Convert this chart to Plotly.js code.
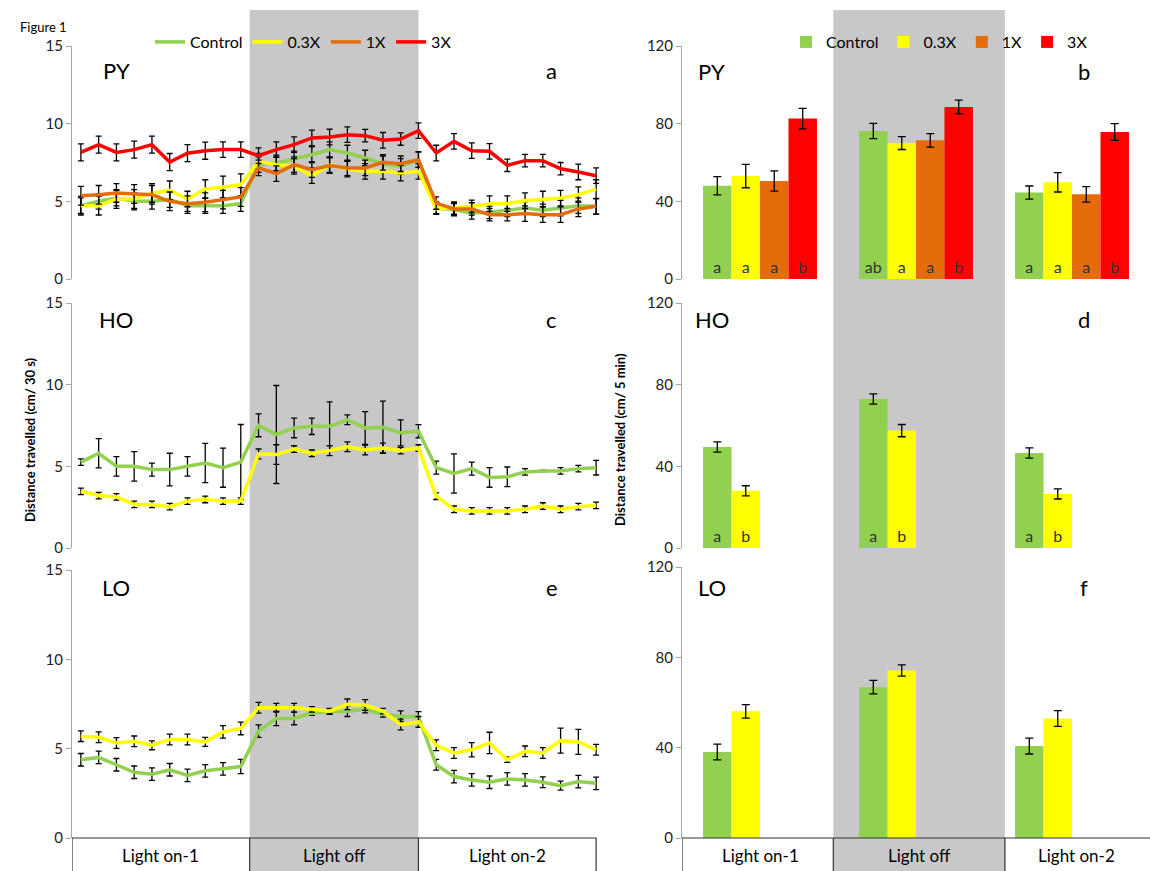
<!DOCTYPE html>
<html><head><meta charset="utf-8">
<script src="https://cdn.plot.ly/plotly-3.0.1.min.js"></script>
<style>body{margin:0;background:#fff}#plot{width:1150px;height:871px}</style>
</head><body><div id="plot"></div>
<script>
// time points: 10 light on-1, 10 light off, 10 light on-2
const t = Array.from({length: 30}, (_, i) => i);

// panel a (PY)
const aControl = [4.72,5.0,5.21,5.0,5.0,5.11,4.72,4.72,4.72,4.85, 7.36,7.47,7.73,8.0,8.33,8.11,7.79,7.42,7.25,7.68, 4.57,4.46,4.25,4.29,4.42,4.57,4.42,4.57,4.72,4.68];
const a03X = [4.72,4.72,5.15,5.15,5.54,5.71,5.15,5.79,5.92,6.07, 7.58,7.36,7.25,6.65,7.36,7.08,6.93,6.93,6.82,6.93, 4.51,4.57,4.68,4.85,4.85,5.04,5.15,5.21,5.43,5.79];
const a1X = [5.36,5.42,5.54,5.47,5.42,5.0,4.85,4.94,5.11,5.28, 7.15,6.78,7.36,7.04,7.3,7.15,7.15,7.51,7.42,7.68, 4.89,4.51,4.51,4.14,4.14,4.21,4.14,4.14,4.51,4.68];
const a3X = [8.15,8.65,8.15,8.33,8.65,7.53,8.1,8.26,8.33,8.33, 7.94,8.33,8.65,9.08,9.14,9.29,9.23,8.93,9.01,9.55, 8.11,8.86,8.26,8.22,7.32,7.62,7.62,7.1,6.89,6.65];
const aErrControl = [0.5,0.5,0.5,0.55,0.5,0.5,0.5,0.5,0.5,0.5, 0.5,0.5,0.5,0.5,0.5,0.5,0.5,0.5,0.5,0.5, 0.4,0.4,0.4,0.4,0.4,0.4,0.4,0.5,0.5,0.5];
const aErr03X = [0.6,0.6,0.6,0.6,0.6,0.6,0.5,0.6,0.7,0.7, 0.5,0.5,0.5,0.5,0.5,0.5,0.5,0.5,0.5,0.5, 0.3,0.4,0.4,0.5,0.5,0.5,0.5,0.5,0.5,0.6];
const aErr1X = [0.6,0.6,0.6,0.6,0.6,0.6,0.5,0.6,0.6,0.6, 0.5,0.5,0.5,0.5,0.5,0.5,0.5,0.5,0.5,0.5, 0.4,0.4,0.4,0.4,0.4,0.5,0.5,0.5,0.5,0.5];
const aErr3X = [0.55,0.55,0.55,0.55,0.55,0.55,0.55,0.55,0.5,0.5, 0.5,0.5,0.5,0.5,0.5,0.5,0.4,0.5,0.4,0.5, 0.5,0.5,0.5,0.5,0.4,0.4,0.4,0.4,0.5,0.5];

// panel c (HO)
const cControl = [5.26,5.8,5.0,5.0,4.8,4.8,5.0,5.2,4.92,5.26, 7.51,6.95,7.35,7.45,7.45,7.85,7.35,7.39,7.05,7.15, 4.92,4.56,4.86,4.32,4.36,4.66,4.72,4.72,4.86,4.92];
const cErrControl = [0.2,0.9,0.6,0.9,0.4,1.0,0.6,1.2,1.2,2.3, 0.7,3.0,0.6,0.5,1.5,0.3,1.0,1.6,0.8,0.4, 0.4,1.2,0.4,0.6,0.6,0.2,0.05,0.2,0.2,0.45];
const c03X = [3.47,3.21,3.13,2.67,2.67,2.53,2.87,2.97,2.87,2.87, 5.76,5.72,6.06,5.8,5.96,6.2,6.0,6.12,5.96,6.12, 3.17,2.37,2.27,2.27,2.27,2.37,2.57,2.37,2.53,2.61];
const cErr03X = [0.2,0.2,0.2,0.2,0.2,0.2,0.2,0.2,0.2,0.2, 0.3,0.6,0.2,0.2,0.3,0.3,0.3,0.3,0.2,0.2, 0.2,0.2,0.2,0.2,0.2,0.2,0.2,0.2,0.2,0.2];

// panel e (LO)
const eControl = [4.38,4.51,4.1,3.68,3.57,3.82,3.5,3.76,3.87,4.0, 5.98,6.69,6.69,7.01,7.07,7.1,7.2,6.92,6.82,6.77, 4.1,3.44,3.25,3.12,3.31,3.25,3.12,2.93,3.16,3.06];
const eErrControl = [0.35,0.35,0.35,0.35,0.35,0.35,0.35,0.35,0.35,0.4, 0.35,0.4,0.35,0.15,0.15,0.3,0.2,0.15,0.3,0.3, 0.3,0.35,0.35,0.35,0.35,0.35,0.3,0.25,0.35,0.35];
const e03X = [5.7,5.64,5.32,5.41,5.19,5.51,5.51,5.38,5.94,6.13, 7.29,7.29,7.29,7.2,7.1,7.48,7.44,7.1,6.35,6.5, 5.19,4.76,4.94,5.32,4.38,4.85,4.76,5.45,5.38,4.94];
const eErr03X = [0.3,0.3,0.3,0.3,0.25,0.3,0.3,0.25,0.35,0.35, 0.3,0.25,0.25,0.15,0.15,0.3,0.3,0.15,0.3,0.3, 0.3,0.3,0.4,0.6,0.15,0.3,0.3,0.7,0.7,0.3];

// bar panels, per 5 min
const phases = ['Light on-1','Light off','Light on-2'];
const bControl = [48,76.2,44.5], bErrControl = [4.7,3.9,3.4], bTxtControl = ['a','ab','a'];
const b03X = [53,70,49.8], bErr03X = [6,3.3,5], bTxt03X = ['a','a','a'];
const b1X = [50.5,71.4,43.6], bErr1X = [5.2,3.5,4], bTxt1X = ['a','a','a'];
const b3X = [82.6,88.6,75.7], bErr3X = [5.3,3.5,4.3], bTxt3X = ['b','b','b'];
const dControl = [49.5,73,46.5], dErrControl = [2.5,2.5,2.5], dTxtControl = ['a','a','a'];
const d03X = [28,57.5,26.5], dErr03X = [2.5,3,2.5], dTxt03X = ['b','b','b'];
const fControl = [38.1,66.8,40.7], fErrControl = [3.5,3,3.5];
const f03X = [56.1,74.2,52.9], fErr03X = [3,2.5,3.5];

const colors = {Control: '#92D050', '0.3X': '#FFFF00', '1X': '#E46C0A', '3X': '#FF0000'};
const FONT = 'Lato, "Open Sans", sans-serif';

function line(name, y, err, ax, legend) {
  return {x: t, y: y, type: 'scatter', mode: 'lines', name: name,
    xaxis: 'x' + ax, yaxis: 'y' + ax, showlegend: legend,
    line: {color: colors[name], width: 3.5},
    error_y: {type: 'data', array: err, color: '#000', thickness: 1.3, width: 3}};
}
function bar(name, y, err, txt, ax, legend) {
  return {x: [0, 1, 2], y: y, type: 'bar', name: name, legend: 'legend2',
    xaxis: 'x' + ax, yaxis: 'y' + ax, showlegend: legend,
    marker: {color: colors[name]},
    text: txt, textposition: 'inside', insidetextanchor: 'start',
    textfont: {family: FONT, size: 16, color: '#333'},
    error_y: {type: 'data', array: err, color: '#000', thickness: 1.3, width: 4}};
}
const blank = (name, ax) => ({x: [0, 1, 2], y: [null, null, null], type: 'bar', name: name,
  xaxis: 'x' + ax, yaxis: 'y' + ax, showlegend: false, marker: {color: colors[name]}});

const data = [
  line('Control', aControl, aErrControl, '', true),
  line('0.3X', a03X, aErr03X, '', true),
  line('1X', a1X, aErr1X, '', true),
  line('3X', a3X, aErr3X, '', true),
  line('Control', cControl, cErrControl, '2', false),
  line('0.3X', c03X, cErr03X, '2', false),
  line('Control', eControl, eErrControl, '3', false),
  line('0.3X', e03X, eErr03X, '3', false),
  bar('Control', bControl, bErrControl, bTxtControl, '4', true),
  bar('0.3X', b03X, bErr03X, bTxt03X, '4', true),
  bar('1X', b1X, bErr1X, bTxt1X, '4', true),
  bar('3X', b3X, bErr3X, bTxt3X, '4', true),
  bar('Control', dControl, dErrControl, dTxtControl, '5', false),
  bar('0.3X', d03X, dErr03X, dTxt03X, '5', false),
  blank('1X', '5'), blank('3X', '5'),
  bar('Control', fControl, fErrControl, null, '6', false),
  bar('0.3X', f03X, fErr03X, null, '6', false),
  blank('1X', '6'), blank('3X', '6')
];

const W = 1150, H = 871;
const px = (a, b) => [a / W, b / W];
const py = (top, bot) => [(H - bot) / H, (H - top) / H];
const xl = {domain: px(72, 605), range: [-0.5, 29.5], visible: false};
const xr = {domain: px(682, 1150), range: [-0.5, 2.5], visible: false};
function yax(dom, max, dt, anchor) {
  return {domain: dom, range: [0, max], dtick: dt, anchor: anchor, showgrid: false, zeroline: false,
    showline: true, linecolor: '#a6a6a6', linewidth: 1, ticks: 'outside', tickcolor: '#a6a6a6',
    ticklen: 5, tickfont: {family: FONT, size: 15, color: '#222'}};
}

const shapes = [];
const bandTop = (H - 10) / H;
shapes.push({type: 'rect', xref: 'x', yref: 'paper', x0: 9.5, x1: 19.0, y0: 0, y1: bandTop,
  fillcolor: '#c8c8c8', line: {width: 0}, layer: 'below'});
shapes.push({type: 'rect', xref: 'x4', yref: 'paper', x0: 0.47, x1: 1.57, y0: 0, y1: bandTop,
  fillcolor: '#c8c8c8', line: {width: 0}, layer: 'below'});
// bottom boxes for phase labels
const axBot = (H - 838) / H;
shapes.push({type: 'line', xref: 'x', yref: 'paper', x0: -0.5, x1: 29, y0: axBot, y1: axBot, line: {color: '#333', width: 1.2}});
shapes.push({type: 'line', xref: 'x4', yref: 'paper', x0: -0.5, x1: 2.5, y0: axBot, y1: axBot, line: {color: '#333', width: 1.2}});
[-0.5, 9.5, 19.0, 29].forEach(v => shapes.push({type: 'line', xref: 'x', yref: 'paper', x0: v, x1: v, y0: 0, y1: axBot, line: {color: '#333', width: 1.2}}));
[-0.5, 0.47, 1.57].forEach(v => shapes.push({type: 'line', xref: 'x4', yref: 'paper', x0: v, x1: v, y0: 0, y1: axBot, line: {color: '#333', width: 1.2}}));

const ann = [];
const lab = (text, xref, x, yref, y, size, extra) => ann.push(Object.assign({text: text, xref: xref, x: x, yref: yref, y: y,
  showarrow: false, font: {family: FONT, size: size, color: '#000'}}, extra || {}));
const labelY = (H - 843) / H;
[[4.5, 0], [14.25, 1], [24, 2]].forEach(([x, i]) => lab(phases[i], 'x', x, 'paper', labelY, 17, {yanchor: 'top'}));
[[0, 0], [1.02, 1], [2.03, 2]].forEach(([x, i]) => lab(phases[i], 'x4', x, 'paper', labelY, 17, {yanchor: 'top'}));
lab('PY', 'x', 2, 'y', 13.4, 22); lab('a', 'x', 26.5, 'y', 13.4, 22);
lab('HO', 'x2', 2, 'y2', 14.0, 22); lab('c', 'x2', 26.5, 'y2', 14.0, 22);
lab('LO', 'x3', 2, 'y3', 14.0, 22); lab('e', 'x3', 26.5, 'y3', 14.0, 22);
lab('PY', 'x4', -0.31, 'y4', 107, 22); lab('b', 'x4', 2.08, 'y4', 107, 22);
lab('HO', 'x5', -0.31, 'y5', 112, 22); lab('d', 'x5', 2.08, 'y5', 112, 22);
lab('LO', 'x6', -0.31, 'y6', 111, 22); lab('f', 'x6', 2.08, 'y6', 111, 22);
lab('Figure 1', 'paper', 18 / W, 'paper', (H - 37) / H, 13, {xanchor: 'left', yanchor: 'bottom'});
lab('<b>Distance travelled (cm/ 30 s)</b>', 'paper', 20 / W, 'paper', (H - 440) / H, 13, {textangle: -90});
lab('<b>Distance travelled (cm/ 5 min)</b>', 'paper', 620 / W, 'paper', (H - 440) / H, 13, {textangle: -90});

const layout = {
  width: W, height: H, margin: {l: 0, r: 0, t: 0, b: 0},
  paper_bgcolor: '#fff', plot_bgcolor: 'rgba(0,0,0,0)',
  font: {family: FONT}, barmode: 'group', bargap: 0.27, bargroupgap: 0,
  xaxis: Object.assign({anchor: 'y'}, xl), yaxis: yax(py(46, 279), 15, 5, 'x'),
  xaxis2: Object.assign({anchor: 'y2'}, xl), yaxis2: yax(py(303, 548), 15, 5, 'x2'),
  xaxis3: Object.assign({anchor: 'y3'}, xl), yaxis3: yax(py(570, 838), 15, 5, 'x3'),
  xaxis4: Object.assign({anchor: 'y4'}, xr), yaxis4: yax(py(46, 279), 120, 40, 'x4'),
  xaxis5: Object.assign({anchor: 'y5'}, xr), yaxis5: yax(py(303, 548), 120, 40, 'x5'),
  xaxis6: Object.assign({anchor: 'y6'}, xr), yaxis6: yax(py(567, 838), 120, 40, 'x6'),
  legend: {orientation: 'h', x: 150 / W, y: (H - 42) / H, xanchor: 'left', yanchor: 'middle',
    bgcolor: 'rgba(0,0,0,0)', font: {size: 16, color: '#000'}, itemwidth: 30, tracegroupgap: 0},
  legend2: {orientation: 'h', x: 786 / W, y: (H - 42) / H, xanchor: 'left', yanchor: 'middle',
    bgcolor: 'rgba(0,0,0,0)', font: {size: 16, color: '#000'}, itemwidth: 30},
  shapes: shapes, annotations: ann
};

Plotly.newPlot('plot', data, layout, {displayModeBar: false});
</script></body></html>
